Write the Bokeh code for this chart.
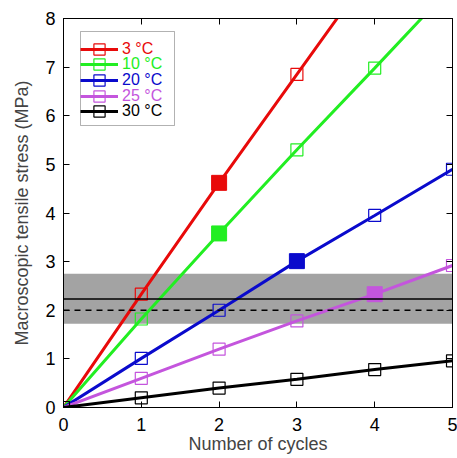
from bokeh.plotting import figure
from bokeh.models import Range1d, LinearAxis, BoxAnnotation, Span, Legend, LegendItem
from bokeh.embed import file_html
from bokeh.resources import INLINE

cycles = [0, 1, 2, 3, 4, 5]
labels = ["3 °C", "10 °C", "20 °C", "25 °C", "30 °C"]
colors = ["#e80a0a", "#22ee22", "#0a0acc", "#c455dd", "#000000"]
values = [
    [0, 2.33, 4.62, 6.85, 9.08, 11.3],
    [0, 1.82, 3.58, 5.30, 6.98, 8.68],
    [0, 1.01, 2.00, 3.01, 3.95, 4.90],
    [0, 0.60, 1.20, 1.78, 2.33, 2.92],
    [0, 0.20, 0.40, 0.58, 0.78, 0.96],
]
filled_index = [2, 2, 3, 4, None]
band_low, band_high = 1.72, 2.75
mean_line = 2.23
ref_line = 2.0
x_ticks = [0, 1, 2, 3, 4, 5]
y_ticks = [0, 1, 2, 3, 4, 5, 6, 7, 8]

FONT = "Liberation Sans"

p = figure(width=457, height=458, output_backend="svg", toolbar_location=None,
           x_range=Range1d(0, 5), y_range=Range1d(0, 8),
           min_border_left=63, min_border_right=5, min_border_top=18, min_border_bottom=51)
p.grid.visible = False
p.outline_line_color = "black"
p.outline_line_width = 1
p.background_fill_color = "white"
p.border_fill_color = "white"

for ax in [p.xaxis[0], p.yaxis[0]]:
    ax.major_tick_in = 6
    ax.major_tick_out = 0
    ax.minor_tick_in = 0
    ax.minor_tick_out = 0
    ax.major_label_text_font = FONT
    ax.major_label_text_font_size = "18px"
    ax.major_label_text_color = "black"
    ax.axis_label_text_font = FONT
    ax.axis_label_text_font_size = "18px"
    ax.axis_label_text_font_style = "normal"
    ax.axis_line_color = "black"
    ax.major_tick_line_color = "black"
p.xaxis[0].ticker = x_ticks
p.yaxis[0].ticker = y_ticks
p.xaxis[0].axis_label = "Number of cycles"
p.yaxis[0].axis_label = "Macroscopic tensile stress (MPa)"
p.xaxis[0].major_label_standoff = 10
p.yaxis[0].major_label_standoff = 8
p.xaxis[0].axis_label_standoff = 0
p.yaxis[0].axis_label_standoff = 10

top_ax = LinearAxis(ticker=x_ticks, major_tick_in=6, major_tick_out=0,
                    minor_tick_in=0, minor_tick_out=0, major_label_text_font_size="0px",
                    major_label_standoff=0,
                    major_label_overrides={t: "" for t in x_ticks})
right_ax = LinearAxis(ticker=y_ticks, major_tick_in=6, major_tick_out=0,
                      minor_tick_in=0, minor_tick_out=0, major_label_text_font_size="0px",
                      major_label_standoff=0,
                      major_label_overrides={t: "" for t in y_ticks})
p.add_layout(top_ax, "above")
p.add_layout(right_ax, "right")

band = BoxAnnotation(bottom=band_low, top=band_high, fill_color="#a3a3a3", fill_alpha=1.0,
                     line_color=None, level="underlay")
p.add_layout(band)
p.add_layout(Span(location=mean_line, dimension="width", line_color="black", line_width=1.5))
p.add_layout(Span(location=ref_line, dimension="width", line_color="black", line_width=1.5,
                  line_dash="6 5"))

items = []
for lab, col, vals, fi in zip(labels, colors, values, filled_index):
    ln = p.line(cycles, vals, line_color=col, line_width=3)
    sc = p.scatter(cycles, vals, marker="square", size=12, line_color=col, line_width=1.2,
                   fill_color=None)
    if fi is not None:
        p.scatter([cycles[fi]], [vals[fi]], marker="square", size=15, line_color=col,
                  fill_color=col)
    items.append(LegendItem(label=lab, renderers=[ln, sc]))

# legend frame (screen units, relative to plot frame)
legend_box = BoxAnnotation(left=17, right=111, bottom=282, top=376,
                           left_units="screen", right_units="screen",
                           bottom_units="screen", top_units="screen",
                           fill_color="white", fill_alpha=1.0,
                           line_color="black", line_width=1, level="overlay")
p.add_layout(legend_box)

common = dict(glyph_width=38, glyph_height=28, label_height=14, spacing=0, padding=8,
              label_standoff=4, label_text_font=FONT, label_text_font_size="16px",
              margin=0, border_line_color=None, background_fill_alpha=0)
row_bottoms = [344, 329, 313, 297, 282]
for it, col, yb in zip(items, colors, row_bottoms):
    lg = Legend(items=[it], location=(17, yb), label_text_color=col, **common)
    p.add_layout(lg, "center")

open("out.html", "w").write(file_html(p, INLINE))
